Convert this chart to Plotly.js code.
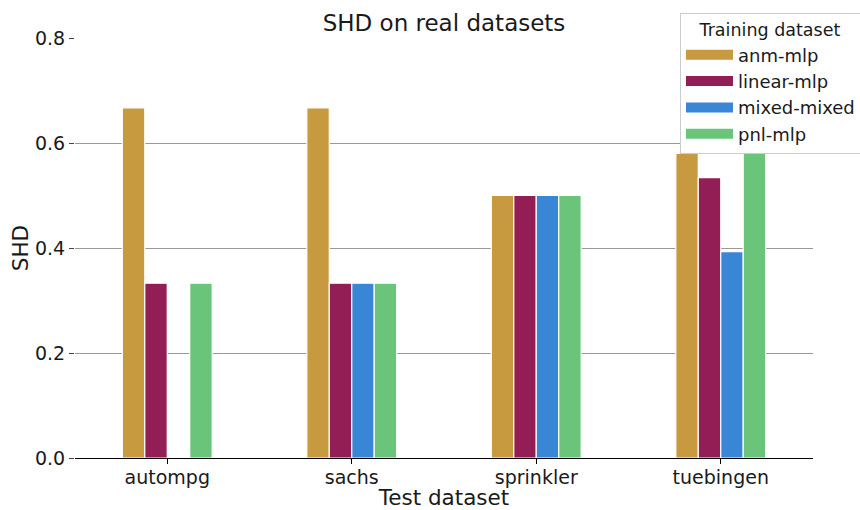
<!DOCTYPE html>
<html>
<head>
<meta charset="utf-8">
<script src="https://cdn.plot.ly/plotly-3.0.1.min.js"></script>
<style>html,body{margin:0;padding:0;background:#fff;}#chart{width:860px;height:510px;}</style>
</head>
<body>
<div id="chart"></div>
<script>
const categories = ['autompg', 'sachs', 'sprinkler', 'tuebingen'];
const seriesNames = ['anm-mlp', 'linear-mlp', 'mixed-mixed', 'pnl-mlp'];
const anmMlp = [0.667, 0.667, 0.5, 0.58];
const linearMlp = [0.333, 0.333, 0.5, 0.534];
const mixedMixed = [0, 0.333, 0.5, 0.393];
const pnlMlp = [0.333, 0.333, 0.5, 0.58];
const seriesColors = ['#C89A40', '#921E55', '#3A86D6', '#6AC57B'];
const yTicks = [0, 0.2, 0.4, 0.6, 0.8];

const seriesValues = [anmMlp, linearMlp, mixedMixed, pnlMlp];
const font = 'DejaVu Sans, sans-serif';

const traces = [];
seriesValues.forEach((vals, i) => {
  traces.push({
    type: 'bar', x: categories, y: vals, name: seriesNames[i],
    marker: {color: seriesColors[i], line: {color: '#ffffff', width: 1.2}},
    showlegend: false, legendgroup: 'g' + i
  });
});
// legend entries (wide rectangular swatches)
seriesNames.forEach((n, i) => {
  traces.push({
    type: 'scatter', mode: 'lines', x: [null], y: [null], name: n,
    line: {color: seriesColors[i], width: 10}, legendgroup: 'g' + i,
    showlegend: true, hoverinfo: 'skip'
  });
});

const layout = {
  width: 860, height: 510,
  paper_bgcolor: '#ffffff', plot_bgcolor: '#ffffff',
  margin: {l: 75, r: 47, t: 38, b: 52, autoexpand: false},
  font: {family: font, color: '#1a1a1a'},
  title: {text: 'SHD on real datasets', font: {family: font, size: 23, color: '#1a1a1a'},
          x: 444 / 860, xanchor: 'center', y: 1 - 22.5 / 510, yanchor: 'middle'},
  barmode: 'group', bargap: 0.513, bargroupgap: 0,
  xaxis: {
    type: 'category', range: [-0.5, 3.5], showgrid: false, zeroline: false,
    showline: true, linecolor: '#000000', linewidth: 1.2,
    ticks: 'outside', ticklen: 5, tickcolor: '#000000', tickwidth: 1,
    ticklabelstandoff: -3,
    tickfont: {family: font, size: 19, color: '#1a1a1a'},
    title: {text: 'Test dataset', font: {family: font, size: 21.5, color: '#1a1a1a'}, standoff: 6}
  },
  yaxis: {
    range: [0, 0.8], tickvals: yTicks, ticktext: yTicks.map(v => v.toFixed(1)),
    showgrid: true, gridcolor: '#999999', gridwidth: 1, zeroline: false, showline: false,
    ticks: 'outside', ticklen: 5, tickcolor: '#444444', tickwidth: 1,
    tickfont: {family: font, size: 19, color: '#1a1a1a'},
    title: {text: 'SHD', font: {family: font, size: 21.5, color: '#1a1a1a'}, standoff: 0}
  },
  legend: {
    x: (680 - 75) / 738, xanchor: 'left', y: (458 - 12.7) / 420, yanchor: 'top',
    bgcolor: '#ffffff', bordercolor: '#cccccc', borderwidth: 1,
    font: {family: font, size: 18, color: '#1a1a1a'},
    title: {text: 'Training dataset', font: {family: font, size: 17.5, color: '#1a1a1a'}, side: 'top center'},
    tracegroupgap: 3, itemwidth: 47, traceorder: 'normal'
  },
  hovermode: false
};

Plotly.newPlot('chart', traces, layout, {displayModeBar: false, staticPlot: true});
</script>
</body>
</html>
